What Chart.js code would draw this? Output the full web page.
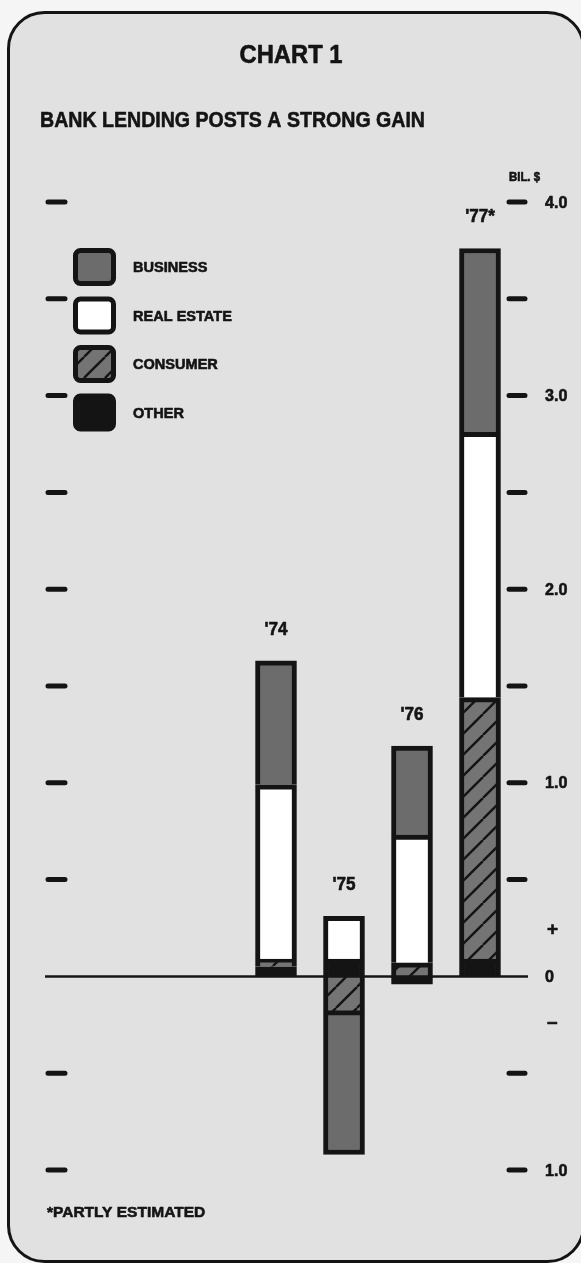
<!DOCTYPE html>
<html>
<head>
<meta charset="utf-8">
<script src="https://cdn.jsdelivr.net/npm/chart.js@4/dist/chart.umd.min.js"></script>
<style>
  html, body { margin: 0; padding: 0; background: #f5f5f5; }
  #c { display: block; }
</style>
</head>
<body>
<canvas id="c" width="581" height="1263"></canvas>
<script>
// Change in bank lending by type of loan, billions of dollars
const years = ["'74", "'75", "'76", "'77*"];
const other = [0.05, 0.09, -0.04, 0.09];
const consumer = [0.04, -0.20, 0.07, 1.35];
const realEstate = [0.90, 0.22, 0.66, 1.37];
const business = [0.64, -0.72, 0.46, 0.95];

// Scale marks drawn on both sides of the plot, and the labels on the right
const markValues = [4, 3.5, 3, 2.5, 2, 1.5, 1, 0.5, -0.5, -1];
const axisLabelValues = [4, 3, 2, 1, 0, -1];
const axisLabels = ['4.0', '3.0', '2.0', '1.0', '0', '1.0'];
const signValues = [0.24, -0.24];
const signLabels = ['+', '\u2013'];

const INK = '#141414';
const PAPER = '#e1e1e1';
const GREY = '#6c6c6c';
const FONT = '"Liberation Sans", Arial, sans-serif';
const FRAME_LEFT = 45;
const FRAME_RIGHT = 528;

// Diagonal hatching for consumer loans
function makeHatch() {
  const n = 21;
  const c = document.createElement('canvas');
  c.width = n; c.height = n;
  const g = c.getContext('2d');
  g.fillStyle = '#747474';
  g.fillRect(0, 0, n, n);
  g.strokeStyle = INK;
  g.lineWidth = 2.4;
  for (const o of [-n, 0, n]) {
    g.beginPath();
    g.moveTo(o, n);
    g.lineTo(o + n, 0);
    g.stroke();
  }
  return document.createElement('canvas').getContext('2d').createPattern(c, 'repeat');
}
const hatch = makeHatch();

// Positive segments carry a top rule, negative ones a bottom rule
const segmentBorder = (ctx) => {
  const v = ctx.raw;
  return v >= 0 ? { top: 5, left: 5, right: 5, bottom: 0 }
                : { top: 0, left: 5, right: 5, bottom: 5 };
};

const series = [
  { label: 'OTHER', data: other, backgroundColor: INK },
  { label: 'CONSUMER', data: consumer, backgroundColor: hatch },
  { label: 'REAL ESTATE', data: realEstate, backgroundColor: '#ffffff' },
  { label: 'BUSINESS', data: business, backgroundColor: GREY }
];

function roundRect(ctx, x, y, w, h, r) {
  ctx.beginPath();
  ctx.moveTo(x + r, y);
  ctx.lineTo(x + w - r, y);
  ctx.arcTo(x + w, y, x + w, y + r, r);
  ctx.lineTo(x + w, y + h - r);
  ctx.arcTo(x + w, y + h, x + w - r, y + h, r);
  ctx.lineTo(x + r, y + h);
  ctx.arcTo(x, y + h, x, y + h - r, r);
  ctx.lineTo(x, y + r);
  ctx.arcTo(x, y, x + r, y, r);
  ctx.closePath();
}

// Heavy bold text with a slight horizontal squeeze for a condensed look
function label(ctx, text, x, y, size, align, squeeze) {
  ctx.save();
  ctx.font = 'bold ' + size + 'px ' + FONT;
  ctx.textAlign = align;
  ctx.textBaseline = 'middle';
  ctx.translate(x, y);
  ctx.scale(squeeze, 1);
  ctx.fillStyle = INK;
  ctx.strokeStyle = INK;
  ctx.lineWidth = 0.6;
  ctx.lineJoin = 'round';
  ctx.fillText(text, 0, 0);
  ctx.strokeText(text, 0, 0);
  ctx.restore();
}

const cardPlugin = {
  id: 'card',
  beforeDraw(chart) {
    const ctx = chart.ctx;
    ctx.save();
    ctx.fillStyle = '#f5f5f5';
    ctx.fillRect(0, 0, chart.width, chart.height);
    roundRect(ctx, 8.5, 12.5, 575, 1249, 36);
    ctx.fillStyle = PAPER;
    ctx.fill();
    ctx.lineWidth = 3;
    ctx.strokeStyle = INK;
    ctx.stroke();
    ctx.restore();
  }
};

const scalePlugin = {
  id: 'scaleMarks',
  afterDatasetsDraw(chart) {
    const ctx = chart.ctx;
    const y = chart.scales.y;
    ctx.save();
    // zero line
    ctx.strokeStyle = INK;
    ctx.lineWidth = 2.5;
    ctx.beginPath();
    ctx.moveTo(FRAME_LEFT, y.getPixelForValue(0));
    ctx.lineTo(FRAME_RIGHT, y.getPixelForValue(0));
    ctx.stroke();
    // short marks at both edges
    ctx.lineWidth = 5;
    ctx.lineCap = 'round';
    for (const v of markValues) {
      const py = y.getPixelForValue(v);
      ctx.beginPath();
      ctx.moveTo(FRAME_LEFT + 3, py);
      ctx.lineTo(FRAME_LEFT + 20, py);
      ctx.moveTo(FRAME_RIGHT - 19, py);
      ctx.lineTo(FRAME_RIGHT - 3, py);
      ctx.stroke();
    }
    // right-hand labels
    axisLabelValues.forEach((v, i) => {
      label(ctx, axisLabels[i], 545, y.getPixelForValue(v) + 1, 17, 'left', 0.95);
    });
    signValues.forEach((v, i) => {
      label(ctx, signLabels[i], 547, y.getPixelForValue(v), 19, 'left', 1);
    });
    label(ctx, 'BIL. $', 509, y.getPixelForValue(4) - 24, 12, 'left', 0.95);

    // year labels above each stack
    const meta = chart.getDatasetMeta(0);
    years.forEach((lab, i) => {
      let top = 0;
      chart.data.datasets.forEach(ds => { if (ds.data[i] > 0) top += ds.data[i]; });
      label(ctx, lab, meta.data[i].x, y.getPixelForValue(top) - 31, 18, 'center', 0.95);
    });
    ctx.restore();
  }
};

const textPlugin = {
  id: 'texts',
  afterDraw(chart) {
    const ctx = chart.ctx;
    ctx.save();
    label(ctx, 'CHART 1', 291, 56, 25, 'center', 0.95);
    label(ctx, 'BANK LENDING POSTS A STRONG GAIN', 40, 121, 22.5, 'left', 0.87);
    label(ctx, '*PARTLY ESTIMATED', 47, 1213, 15.5, 'left', 1.0);

    // legend, top series first
    const items = chart.data.datasets.slice().reverse();
    items.forEach((ds, i) => {
      const cy = 267 + i * 48.5;
      roundRect(ctx, 75.5, cy - 16.5, 38, 33, 5);
      ctx.fillStyle = ds.backgroundColor;
      ctx.fill();
      ctx.lineWidth = 5;
      ctx.strokeStyle = INK;
      ctx.stroke();
      label(ctx, ds.label, 133, cy + 1, 15, 'left', 0.97);
    });
    ctx.restore();
  }
};

new Chart(document.getElementById('c'), {
  type: 'bar',
  data: {
    labels: years,
    datasets: series.map(s => ({
      label: s.label,
      data: s.data,
      backgroundColor: s.backgroundColor,
      borderColor: INK,
      borderWidth: segmentBorder,
      borderSkipped: false,
      barThickness: 41
    }))
  },
  options: {
    responsive: false,
    animation: false,
    devicePixelRatio: 1,
    layout: { padding: { top: 202, bottom: 93, left: 242, right: 67 } },
    scales: {
      x: { stacked: true, display: false, offset: true },
      y: { stacked: true, display: false, min: -1, max: 4 }
    },
    plugins: {
      legend: { display: false },
      tooltip: { enabled: false },
      title: { display: false }
    }
  },
  plugins: [cardPlugin, scalePlugin, textPlugin]
});
</script>
</body>
</html>
